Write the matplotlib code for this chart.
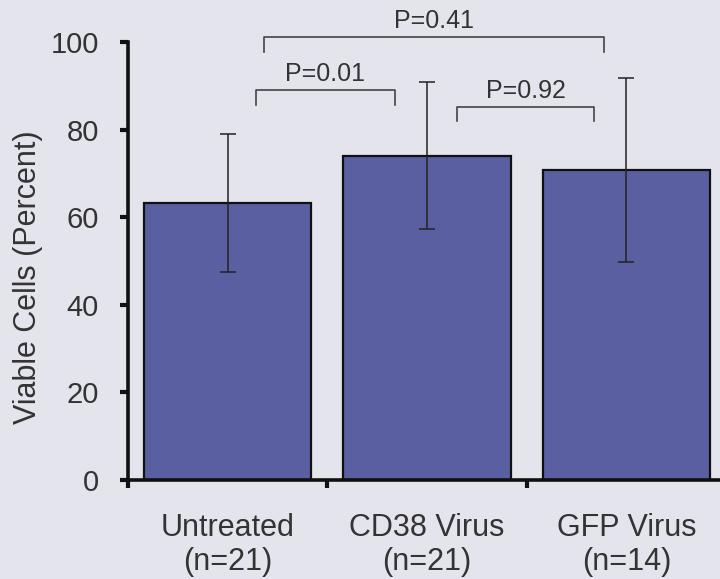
import matplotlib.pyplot as plt

plt.rcParams['font.family'] = ['Liberation Sans', 'DejaVu Sans']

groups = ['Untreated\n(n=21)', 'CD38 Virus\n(n=21)', 'GFP Virus\n(n=14)']
viable = [63.2, 74.0, 70.8]
sd = [15.8, 16.8, 21.0]

# pairwise comparisons: (left end, right end, line height, p label)
pvals = ['P=0.01', 'P=0.92', 'P=0.41']
pairs = [(0.14, 0.84, 89.0), (1.15, 1.84, 85.2), (0.18, 1.89, 101.1)]

bg = '#e4e4ec'
bar_col = '#5a5fa2'
txt = '#333333'

fig = plt.figure(figsize=(7.2, 5.79), dpi=100, facecolor=bg)
ax = fig.add_axes([128/720, 99/579, 598/720, 438/579])
ax.set_facecolor(bg)

x = range(len(groups))
ax.bar(x, viable, width=0.84, color=bar_col, edgecolor='#111111', linewidth=1.6, zorder=2)
ax.errorbar(x, viable, yerr=sd, fmt='none', ecolor='#222222', elinewidth=1.1,
            capsize=6, capthick=1.1, zorder=3)

ax.set_xlim(-0.5, 2.5)
ax.set_ylim(0, 100)
ax.set_yticks([0, 20, 40, 60, 80, 100])
ax.set_xticks(list(x))
ax.set_xticklabels(groups, fontsize=22, color=txt, linespacing=1.15)
ax.set_xticks([-0.5, 0.5, 1.5], minor=True)
ax.tick_params(axis='x', which='major', length=0, pad=24)
ax.tick_params(axis='x', which='minor', length=6, width=3, direction='out', color='#111111')
ax.tick_params(axis='y', length=6, width=3, direction='out', color='#111111',
               labelsize=21, labelcolor=txt, pad=15)

# y label placed in figure coords so it sits close to the left edge
fig.text(28/720, 1 - 277/579, 'Viable Cells (Percent)', rotation=90, fontsize=22,
         color=txt, ha='center', va='center')

for s in ['top', 'right']:
    ax.spines[s].set_visible(False)
for s in ['left', 'bottom']:
    ax.spines[s].set_linewidth(2.6)
    ax.spines[s].set_color('#111111')

for (x0, x1, h), lab in zip(pairs, pvals):
    ax.plot([x0, x0, x1, x1], [h - 3.3, h, h, h - 3.3], color='#444444', lw=1.2,
            clip_on=False, zorder=4)
    ax.text((x0 + x1) / 2, h + 2.0, lab, ha='center', va='baseline', fontsize=18,
            color=txt, clip_on=False)

fig.savefig('out.png', dpi=100, facecolor=bg)
